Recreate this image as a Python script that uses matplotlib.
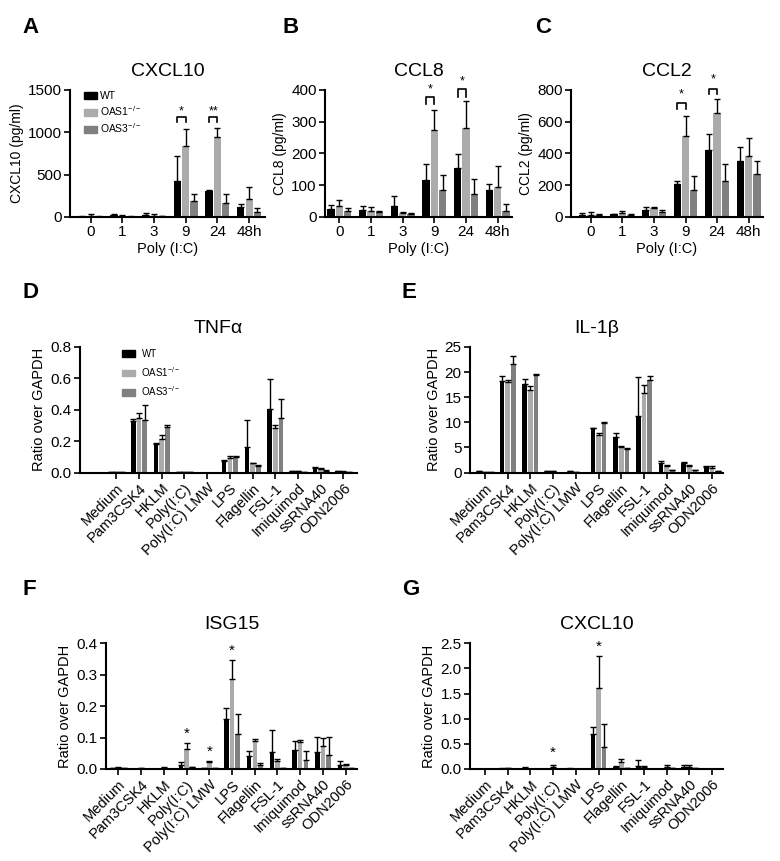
import numpy as np
import matplotlib
matplotlib.use("Agg")
import matplotlib.pyplot as plt
from matplotlib.patches import Patch

plt.rcParams['font.family'] = ['Liberation Sans', 'DejaVu Sans']
plt.rcParams['mathtext.fontset'] = 'custom'
plt.rcParams['mathtext.rm'] = 'Liberation Sans'
plt.rcParams['mathtext.it'] = 'Liberation Sans'

# ---- data: ELISA time course (pg/ml) ----
hours = ["0", "1", "3", "9", "24", "48h"]

cxcl10_wt = [5, 18, 20, 426, 308, 115]
cxcl10_wt_err = [5, 15, 30, 289, 5, 43]
cxcl10_o1 = [10, 10, 15, 837, 940, 209]
cxcl10_o1_err = [20, 15, 20, 197, 106, 146]
cxcl10_o3 = [5, 5, 8, 190, 166, 59]
cxcl10_o3_err = [5, 5, 5, 82, 106, 51]

ccl8_wt = [24, 21, 36, 118, 154, 84]
ccl8_wt_err = [13, 15, 30, 48, 44, 19]
ccl8_o1 = [34, 20, 13, 275, 280, 95]
ccl8_o1_err = [21, 10, 3, 61, 85, 65]
ccl8_o3 = [19, 16, 8, 85, 71, 18]
ccl8_o3_err = [10, 4, 4, 46, 50, 23]

ccl2_wt = [11, 17, 44, 207, 425, 353]
ccl2_wt_err = [14, 2, 17, 22, 98, 87]
ccl2_o1 = [13, 23, 55, 512, 656, 385]
ccl2_o1_err = [17, 17, 6, 123, 85, 112]
ccl2_o3 = [11, 11, 30, 169, 224, 271]
ccl2_o3_err = [8, 8, 14, 89, 110, 84]

# ---- data: TLR ligand stimulation (ratio over GAPDH) ----
ligands = ["Medium", "Pam3CSK4", "HKLM", "Poly(I:C)", "Poly(I:C) LMW", "LPS",
           "Flagellin", "FSL-1", "Imiquimod", "ssRNA40", "ODN2006"]

tnf_wt = [0.003, 0.328, 0.184, 0.003, 0.0, 0.076, 0.165, 0.402, 0.010, 0.030, 0.010]
tnf_wt_err = [0.0, 0.011, 0.004, 0.0, 0.0, 0.004, 0.167, 0.191, 0.002, 0.005, 0.002]
tnf_o1 = [0.001, 0.349, 0.216, 0.004, 0.0, 0.095, 0.059, 0.286, 0.010, 0.025, 0.006]
tnf_o1_err = [0.0, 0.032, 0.023, 0.0, 0.0, 0.009, 0.004, 0.014, 0.002, 0.003, 0.002]
tnf_o3 = [0.001, 0.334, 0.290, 0.001, 0.0, 0.100, 0.044, 0.345, 0.005, 0.012, 0.002]
tnf_o3_err = [0.0, 0.096, 0.013, 0.0, 0.0, 0.006, 0.005, 0.123, 0.001, 0.003, 0.0]

il1b_wt = [0.30, 18.2, 17.55, 0.30, 0.25, 8.78, 7.1, 11.3, 1.80, 1.86, 1.13]
il1b_wt_err = [0.05, 1.1, 1.0, 0.05, 0.05, 0.06, 0.75, 7.7, 0.45, 0.14, 0.07]
il1b_o1 = [0.15, 18.0, 16.36, 0.20, 0.15, 7.5, 5.05, 15.8, 1.26, 1.33, 0.86]
il1b_o1_err = [0.03, 0.35, 0.8, 0.03, 0.03, 0.4, 0.15, 1.7, 0.14, 0.17, 0.34]
il1b_o3 = [0.05, 21.7, 19.4, 0.0, 0.0, 9.9, 4.7, 18.35, 0.40, 0.40, 0.20]
il1b_o3_err = [0.0, 1.6, 0.15, 0.0, 0.0, 0.07, 0.15, 0.85, 0.05, 0.05, 0.03]

isg15_wt = [0.002, 0.001, 0.001, 0.013, 0.004, 0.158, 0.040, 0.055, 0.062, 0.055, 0.013]
isg15_wt_err = [0.0, 0.0, 0.0, 0.010, 0.0, 0.035, 0.016, 0.069, 0.028, 0.046, 0.012]
isg15_o1 = [0.002, 0.002, 0.003, 0.063, 0.022, 0.285, 0.090, 0.025, 0.087, 0.074, 0.012]
isg15_o1_err = [0.005, 0.002, 0.003, 0.020, 0.003, 0.062, 0.007, 0.008, 0.005, 0.025, 0.003]
isg15_o3 = [0.002, 0.001, 0.001, 0.005, 0.004, 0.111, 0.012, 0.002, 0.029, 0.045, 0.003]
isg15_o3_err = [0.0, 0.0, 0.0, 0.0, 0.0, 0.063, 0.008, 0.0, 0.029, 0.058, 0.0]

cxcl10g_wt = [0.005, 0.005, 0.010, 0.005, 0.005, 0.70, 0.03, 0.06, 0.005, 0.035, 0.0]
cxcl10g_wt_err = [0.0, 0.015, 0.020, 0.0, 0.015, 0.135, 0.03, 0.11, 0.0, 0.035, 0.0]
cxcl10g_o1 = [0.005, 0.010, 0.005, 0.040, 0.005, 1.61, 0.145, 0.03, 0.03, 0.035, 0.0]
cxcl10g_o1_err = [0.0, 0.0, 0.0, 0.030, 0.0, 0.64, 0.055, 0.03, 0.04, 0.04, 0.0]
cxcl10g_o3 = [0.005, 0.005, 0.005, 0.005, 0.005, 0.44, 0.010, 0.005, 0.01, 0.01, 0.0]
cxcl10g_o3_err = [0.0, 0.0, 0.0, 0.0, 0.0, 0.46, 0.0, 0.0, 0.0, 0.0, 0.0]

colors = ["#000000", "#ababab", "#808080"]
labels = ["WT", "OAS1$^{-/-}$", "OAS3$^{-/-}$"]

W, H = 780, 861
fig = plt.figure(figsize=(W / 100, H / 100), dpi=100)


def px_axes(left, right, top, bottom):
    return fig.add_axes([left / W, 1 - bottom / H, (right - left) / W, (bottom - top) / H])


def bars(ax, series, errs, width, step):
    x = np.arange(len(series[0]))
    for i, (vals, err) in enumerate(zip(series, errs)):
        ax.bar(x + (i - 1) * step, vals, width, color=colors[i], zorder=2)
        ax.errorbar(x + (i - 1) * step, vals, yerr=[np.zeros(len(err)), err], fmt="none",
                    ecolor="black", elinewidth=1, capsize=2, capthick=1, zorder=3)
    return x


def style(ax, ylim, yticks, title, xlim, tfs):
    for s in ["top", "right"]:
        ax.spines[s].set_visible(False)
    for s in ["left", "bottom"]:
        ax.spines[s].set_linewidth(1.5)
    ax.set_ylim(*ylim)
    ax.set_yticks(yticks)
    ax.set_xlim(*xlim)
    ax.tick_params(width=1.2, length=4, labelsize=tfs, pad=2)
    ax.set_title(title, fontsize=14, pad=10)


def bracket(ax, x0, x1, top, leg, star, text):
    ax.plot([x0, x0, x1, x1], [leg, top, top, leg], color="black", lw=1.2, clip_on=False)
    ax.text((x0 + x1) / 2, star, text, ha="center", va="center", fontsize=9)


# ---- top row ----
top_panels = [
    (70, 265, (-0.65, 5.5), (cxcl10_wt, cxcl10_o1, cxcl10_o3),
     (cxcl10_wt_err, cxcl10_o1_err, cxcl10_o3_err), "CXCL10", "CXCL10 (pg/ml)",
     (0, 1500), [0, 500, 1000, 1500], [(1176, 1117, 1250, "*"), (1176, 1117, 1250, "**")]),
    (325, 512, (-0.45, 5.45), (ccl8_wt, ccl8_o1, ccl8_o3),
     (ccl8_wt_err, ccl8_o1_err, ccl8_o3_err), "CCL8", "CCL8 (pg/ml)",
     (0, 400), [0, 100, 200, 300, 400], [(378, 355, 402, "*"), (402, 378, 427, "*")]),
    (571, 763, (-0.62, 5.45), (ccl2_wt, ccl2_o1, ccl2_o3),
     (ccl2_wt_err, ccl2_o1_err, ccl2_o3_err), "CCL2", "CCL2 (pg/ml)",
     (0, 800), [0, 200, 400, 600, 800], [(720, 681, 772, "*"), (808, 772, 868, "*")]),
]
top_axes = []
for left, right, xlim, ser, err, title, ylab, ylim, yt, brs in top_panels:
    ax = px_axes(left, right, 90, 217)
    x = bars(ax, ser, err, 0.23, 0.262)
    style(ax, ylim, yt, title, xlim, 11)
    ax.set_xticks(x)
    ax.set_xticklabels(hours)
    ax.set_xlabel("Poly (I:C)", fontsize=10.5, labelpad=2)
    ax.set_ylabel(ylab, fontsize=10, labelpad=3)
    for gi, (top, leg, star, txt) in zip([3, 4], brs):
        bracket(ax, gi - 0.262, gi, top, leg, star, txt)
    top_axes.append(ax)

handles = [Patch(color=c) for c in colors]
top_axes[0].legend(handles, labels, loc="upper left", bbox_to_anchor=(0.07, 0.99),
                   frameon=False, fontsize=7.5, borderpad=0, borderaxespad=0,
                   handlelength=1.25, handleheight=0.75, labelspacing=0.3, handletextpad=0.35)

# ---- lower panels ----
low_panels = [
    (80, 357, 347, 472.5, (-1.6, 10.6), (tnf_wt, tnf_o1, tnf_o3),
     (tnf_wt_err, tnf_o1_err, tnf_o3_err), "TNF\u03b1", (0, 0.8),
     [0.0, 0.2, 0.4, 0.6, 0.8], "{:.1f}", []),
    (470, 723, 347, 472.5, (-0.66, 10.48), (il1b_wt, il1b_o1, il1b_o3),
     (il1b_wt_err, il1b_o1_err, il1b_o3_err), "IL-1\u03b2", (0, 25),
     [0, 5, 10, 15, 20, 25], "{:.0f}", []),
    (106, 357, 643.3, 769, (-0.55, 10.5), (isg15_wt, isg15_o1, isg15_o3),
     (isg15_wt_err, isg15_o1_err, isg15_o3_err), "ISG15", (0, 0.4),
     [0.0, 0.1, 0.2, 0.3, 0.4], "{:.1f}", [(3, 0.111), (4, 0.055), (5, 0.377)]),
    (470, 723, 643.3, 769, (-0.66, 10.48), (cxcl10g_wt, cxcl10g_o1, cxcl10g_o3),
     (cxcl10g_wt_err, cxcl10g_o1_err, cxcl10g_o3_err), "CXCL10", (0, 2.5),
     [0.0, 0.5, 1.0, 1.5, 2.0, 2.5], "{:.1f}", [(3, 0.325), (5, 2.43)]),
]
low_axes = []
for left, right, top, bottom, xlim, ser, err, title, ylim, yt, fmt, stars in low_panels:
    ax = px_axes(left, right, top, bottom)
    x = bars(ax, ser, err, 0.2, 0.25)
    style(ax, ylim, yt, title, xlim, 11)
    ax.set_yticklabels([fmt.format(v) for v in yt])
    ax.set_xticks(x)
    ax.set_xticklabels(ligands, rotation=45, ha="right", rotation_mode="anchor", fontsize=10.5)
    ax.set_ylabel("Ratio over GAPDH", fontsize=10.5, labelpad=3)
    for gi, sy in stars:
        ax.text(gi, sy, "*", ha="center", va="center", fontsize=11, clip_on=False)
    low_axes.append(ax)

low_axes[0].legend(handles, labels, loc="upper left", bbox_to_anchor=(0.15, 0.985),
                   frameon=False, fontsize=7, borderpad=0, borderaxespad=0,
                   handlelength=1.35, handleheight=0.65, labelspacing=0.6, handletextpad=0.7)

# panel letters
for letter, lx, ly in [("A", 22, 17), ("B", 282, 17), ("C", 535, 17), ("D", 22, 282),
                       ("E", 402, 282), ("F", 22, 579), ("G", 402, 579)]:
    fig.text(lx / W, 1 - ly / H, letter, fontsize=16, fontweight="bold", ha="left", va="top")

fig.savefig("out.png", dpi=100)
